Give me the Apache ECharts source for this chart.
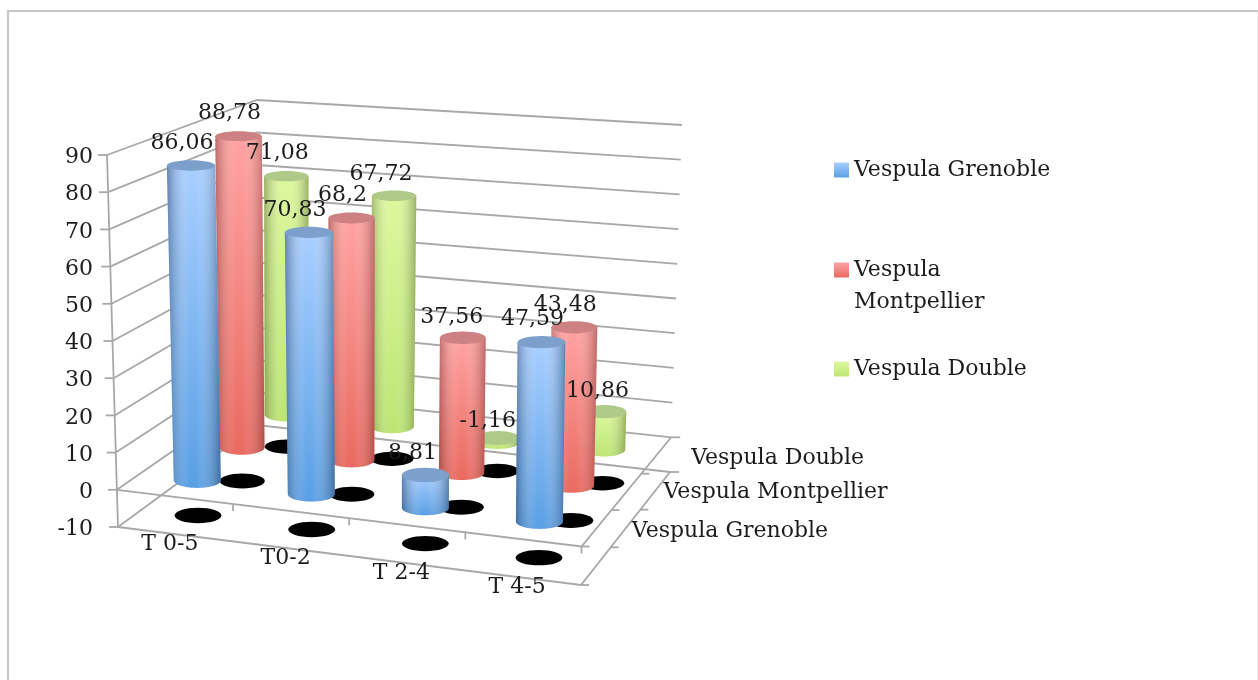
<!DOCTYPE html>
<html>
<head>
<meta charset="utf-8">
<title>Vespula</title>
<style>
  html, body { margin: 0; padding: 0; background: #fff; }
  #chart { width: 1258px; height: 680px; }
</style>
<script src="https://cdn.jsdelivr.net/npm/echarts@6/dist/echarts.min.js"></script>
</head>
<body>
<div id="chart"></div>
<script>
  const categories = ['T 0-5', 'T0-2', 'T 2-4', 'T 4-5']
  const seriesNames = ['Vespula Grenoble', 'Vespula Montpellier', 'Vespula Double']
  const grenoble = [86.06, 70.83, 8.81, 47.59]
  const montpellier = [88.78, 68.2, 37.56, 43.48]
  const double = [71.08, 67.72, -1.16, 10.86]
  const yTicks = [-10, 0, 10, 20, 30, 40, 50, 60, 70, 80, 90]

  const FONT = '22px "DejaVu Serif"'
  const TEXT = '#1c1c1c'
  const LINE = '#a8a8a8'
  const LINE_W = 1.8
  const rowValues = [grenoble, montpellier, double]

  // corners of the 3d box on screen, [front/back][left/right], bottom then top
  const box = {
    bottom: { fl: [118, 527], fr: [581, 585], bl: [257, 425], br: [670, 472] },
    top: { fl: [107, 155], fr: [586, 200], bl: [257, 100], br: [682, 125] }
  }
  const palette = [
    { top: '#a9cfff', bottom: '#5a9fe4', cap: '#7c9fcb', edge: 'rgba(30,60,100,0.5)' },
    { top: '#ffa3a3', bottom: '#e96a60', cap: '#cd8182', edge: 'rgba(100,30,30,0.42)' },
    { top: '#dcf89e', bottom: '#bde574', cap: '#aec988', edge: 'rgba(60,80,20,0.42)' }
  ]
  // value labels do not all sit at the same spot above their cylinder, key is row,category
  const labelNudge = {
    '0,1': [-5, 0],
    '0,2': [-4, 1],
    '1,2': [-2, 2],
    '2,1': [-4, 1],
    '2,2': [-1, 6],
    '2,3': [2, 2]
  }
  const rowLabelNudge = [[36, -35], [38, -36], [36, -33]]

  const mix = (a, b, t) => [a[0] + (b[0] - a[0]) * t, a[1] + (b[1] - a[1]) * t]

  function project (u, w, v) {
    const low = mix(mix(box.bottom.fl, box.bottom.fr, u), mix(box.bottom.bl, box.bottom.br, u), w)
    const high = mix(mix(box.top.fl, box.top.fr, u), mix(box.top.bl, box.top.br, u), w)
    return mix(low, high, v)
  }

  // goes through the cartesian axes to get u and v, then into the box
  function place (api, params, catIdx, value, row) {
    const cs = params.coordSys
    const pt = api.coord([catIdx, value])
    const u = (pt[0] - cs.x) / cs.width
    const v = (cs.y + cs.height - pt[1]) / cs.height
    const w = row / 3
    return { u, v, w, p: project(u, w, v) }
  }

  function radius (u, w, v) {
    const band = 1 / categories.length
    return 0.206 * (project(u + band / 2, w, v)[0] - project(u - band / 2, w, v)[0])
  }

  const flat = (v) => 0.33 - 0.12 * v

  function renderCylinder (row) {
    return function (params, api) {
      const catIdx = api.value(0)
      const value = api.value(1)
      const a = place(api, params, catIdx, Math.max(value, 0), row + 0.5)
      const b = place(api, params, catIdx, Math.min(value, 0), row + 0.5)
      const rxTop = radius(a.u, a.w, a.v)
      const rxBase = radius(b.u, b.w, b.v)
      const ryTop = rxTop * flat(a.v)
      const ryBase = rxBase * flat(b.v)
      const pts = [[a.p[0] - rxTop, a.p[1]]]
      for (let i = 0; i <= 24; i++) {
        const t = Math.PI - Math.PI * i / 24
        pts.push([b.p[0] + rxBase * Math.cos(t), b.p[1] + ryBase * Math.sin(t)])
      }
      pts.push([a.p[0] + rxTop, a.p[1]])
      const c = palette[row]
      return {
        type: 'group',
        children: [
          {
            type: 'polygon',
            shape: { points: pts },
            style: {
              fill: new echarts.graphic.LinearGradient(0, 0, 0, 1, [
                { offset: 0, color: c.top },
                { offset: 1, color: c.bottom }
              ])
            }
          },
          {
            type: 'polygon',
            shape: { points: pts },
            style: {
              fill: new echarts.graphic.LinearGradient(0, 0, 1, 0, [
                { offset: 0, color: c.edge },
                { offset: 0.42, color: 'rgba(255,255,255,0)' },
                { offset: 0.55, color: 'rgba(255,255,255,0)' },
                { offset: 1, color: c.edge }
              ])
            }
          },
          {
            type: 'ellipse',
            shape: { cx: a.p[0], cy: a.p[1], rx: rxTop, ry: ryTop },
            style: { fill: c.cap }
          }
        ]
      }
    }
  }

  function renderWall (params, api) {
    const level = api.value(1)
    const front = place(api, params, 0, level, 0)
    const v = front.v
    return {
      type: 'group',
      children: [
        {
          type: 'polyline',
          shape: { points: [project(0, 0, v), project(0, 1, v), project(1, 1, v)] },
          style: { fill: null, stroke: LINE, lineWidth: LINE_W }
        },
        {
          type: 'line',
          shape: { x1: project(0, 0, v)[0] - 9, y1: project(0, 0, v)[1], x2: project(0, 0, v)[0], y2: project(0, 0, v)[1] },
          style: { stroke: LINE, lineWidth: LINE_W }
        }
      ]
    }
  }

  // the y axis itself
  function renderAxisLine (params, api) {
    return {
      type: 'line',
      shape: {
        x1: project(0, 0, 0)[0],
        y1: project(0, 0, 0)[1],
        x2: project(0, 0, 1)[0],
        y2: project(0, 0, 1)[1]
      },
      style: { stroke: LINE, lineWidth: LINE_W }
    }
  }

  // front and right edges of the floor planes, with their small ticks
  function renderFloorEdge (params, api) {
    const v = place(api, params, 0, api.value(1), 0).v
    const tick = (p, dx, dy) => ({
      type: 'line',
      shape: { x1: p[0], y1: p[1], x2: p[0] + dx, y2: p[1] + dy },
      style: { stroke: LINE, lineWidth: LINE_W }
    })
    const children = [{
      type: 'polyline',
      shape: { points: [project(0, 0, v), project(1, 0, v), project(1, 1, v)] },
      style: { fill: null, stroke: LINE, lineWidth: LINE_W }
    }]
    for (let i = 0; i < 3; i++) {
      children.push(tick(project(1, i / 3, v), 8, 0))
    }
    children.push(tick(project(1, 1, v), 9, 0))
    if (api.value(1) === 0) {
      categories.forEach((c, i) => children.push(tick(project((i + 1) / categories.length, 0, v), 0, 7)))
    }
    return { type: 'group', children }
  }

  function renderDisc (params, api) {
    const at = place(api, params, api.value(0), -10, api.value(2) + 0.5)
    const rx = radius(at.u, at.w, at.v)
    return {
      type: 'ellipse',
      shape: { cx: at.p[0], cy: at.p[1] - 1.5, rx, ry: rx * flat(at.v) },
      style: { fill: '#000' }
    }
  }

  function textEl (text, x, y, align) {
    return {
      type: 'text',
      style: { text, x, y, font: FONT, fill: TEXT, align: align || 'center', verticalAlign: 'middle' }
    }
  }

  function renderValueLabel (params, api) {
    const catIdx = api.value(0)
    const value = api.value(1)
    const row = api.value(2)
    const at = place(api, params, catIdx, Math.max(value, 0), row + 0.5)
    const nudge = labelNudge[row + ',' + catIdx] || [0, 0]
    return textEl(String(value).replace('.', ','), at.p[0] - 9 + nudge[0], at.p[1] - 22.5 + nudge[1])
  }

  function renderCategoryLabel (params, api) {
    const catIdx = api.value(0)
    const at = place(api, params, catIdx, -10, 0)
    return textEl(categories[catIdx], at.p[0] - 6, at.p[1] + 10)
  }

  function renderRowLabel (params, api) {
    const row = api.value(2)
    const cs = params.coordSys
    const pt = project(1, (row + 0.5) / 3, (cs.y + cs.height - api.coord([0, -10])[1]) / cs.height)
    return textEl(seriesNames[row], pt[0] + rowLabelNudge[row][0], pt[1] + rowLabelNudge[row][1], 'left')
  }

  // the blank first line keeps the legend icon next to the word Vespula
  const legendTops = [154, 222, 353]
  const legends = seriesNames.map((name, i) => ({
    left: 834,
    top: legendTops[i],
    padding: 0,
    icon: 'rect',
    itemWidth: 15,
    itemHeight: 15,
    selectedMode: false,
    data: [name],
    formatter: (n) => n === 'Vespula Montpellier' ? '\nVespula\nMontpellier' : n,
    textStyle: {
      color: TEXT,
      fontFamily: 'DejaVu Serif',
      fontSize: 22,
      lineHeight: 32
    }
  }))

  const common = {
    type: 'custom',
    coordinateSystem: 'cartesian2d',
    encode: { x: 0, y: 1 },
    clip: false,
    silent: true
  }

  const cells = []
  const labelData = []
  rowValues.forEach((vals, row) => {
    vals.forEach((val, catIdx) => {
      cells.push([catIdx, -10, row])
      labelData.push([catIdx, val, row])
    })
  })

  const cylinderSeries = seriesNames.map((name, row) => Object.assign({}, common, {
    name,
    z: 5 - row,
    renderItem: renderCylinder(row),
    itemStyle: {
      color: new echarts.graphic.LinearGradient(0, 0, 0, 1, [
        { offset: 0, color: palette[row].top },
        { offset: 1, color: palette[row].bottom }
      ])
    },
    data: categories.map((c, i) => [i, rowValues[row][i]])
  }))

  const chart = echarts.init(document.getElementById('chart'), null, { renderer: 'canvas' })
  chart.setOption({
    animation: false,
    backgroundColor: '#fff',
    textStyle: { fontFamily: 'DejaVu Serif' },
    legend: legends,
    graphic: [
      {
        type: 'polyline',
        silent: true,
        shape: { points: [[8, 700], [8, 11], [1258, 11]] },
        style: { fill: null, stroke: '#c6c6c6', lineWidth: 2.2 }
      },
      {
        type: 'line',
        silent: true,
        shape: { x1: 1257.5, y1: 12, x2: 1257.5, y2: 680 },
        style: { stroke: '#ececec', lineWidth: 1 }
      }
    ],
    grid: { left: 107, top: 155, width: 474, height: 372 },
    xAxis: {
      type: 'category',
      data: categories,
      axisLine: { show: false },
      axisTick: { show: false },
      axisLabel: { show: false }
    },
    yAxis: {
      type: 'value',
      min: -10,
      max: 90,
      interval: 10,
      axisLine: { show: false },
      axisTick: { show: false },
      splitLine: { show: false },
      axisLabel: {
        margin: 14,
        formatter: '{a|{value}}',
        rich: {
          a: {
            color: TEXT,
            fontFamily: 'DejaVu Serif',
            fontSize: 22,
            padding: [5, 0, 0, 0]
          }
        }
      }
    },
    series: [
      Object.assign({}, common, { z: 1, renderItem: renderWall, data: yTicks.map((t) => [0, t]) }),
      Object.assign({}, common, { z: 1, renderItem: renderAxisLine, data: [[0, 0]] }),
      Object.assign({}, common, { z: 1, renderItem: renderFloorEdge, data: [[0, -10], [0, 0]] }),
      Object.assign({}, common, { z: 2, renderItem: renderDisc, data: cells }),
      ...cylinderSeries,
      Object.assign({}, common, { z: 10, renderItem: renderValueLabel, data: labelData }),
      Object.assign({}, common, { z: 10, renderItem: renderCategoryLabel, data: categories.map((c, i) => [i, -10]) }),
      Object.assign({}, common, { z: 10, renderItem: renderRowLabel, data: seriesNames.map((n, i) => [0, -10, i]) })
    ]
  })
</script>
</body>
</html>
